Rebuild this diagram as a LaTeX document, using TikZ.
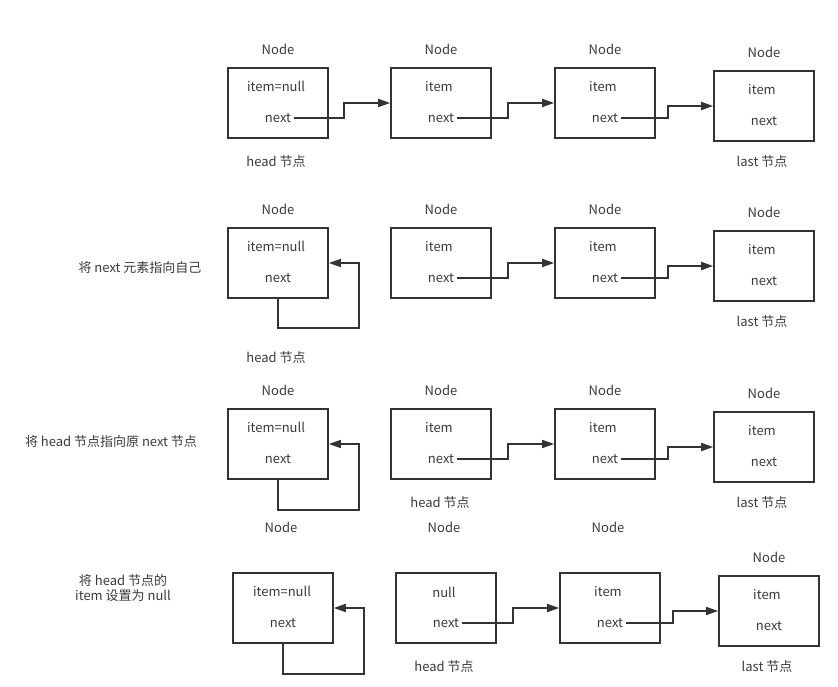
\documentclass[tikz,border=0pt]{standalone}
\usepackage{fontspec}
\setmainfont{Noto Sans CJK SC}
\usetikzlibrary{arrows.meta}
\definecolor{ln}{HTML}{333333}
\definecolor{tx}{HTML}{3A3A3A}
\begin{document}
\begin{tikzpicture}[x=1pt,y=-1pt,
  box/.style={draw=ln,line width=1.7pt,minimum width=100pt,minimum height=70pt,inner sep=0pt},
  lbl/.style={text=tx,font=\fontsize{13}{15.5}\selectfont,inner sep=3pt,yshift=-1pt},
  arr/.style={draw=ln,line width=1.7pt,-{Triangle[length=12pt,width=8pt]}}]
\useasboundingbox (0,0) rectangle (838,687);
% ---------- Row 1 ----------
\node[box] (a1) at (278,103) {};
\node[box] (b1) at (441,103) {};
\node[box] (c1) at (605,103) {};
\node[box] (d1) at (764,106) {};
\node[lbl] (a1t) at (278,48) {Node};
\node[lbl] (b1t) at (441,48) {Node};
\node[lbl] (c1t) at (605,48) {Node};
\node[lbl] (d1t) at (764,51) {Node};
\node[lbl] (a1i) at (276,85) {item=null};
\node[lbl] (a1n) at (278,117) {next};
\node[lbl] (b1i) at (439,86) {item};
\node[lbl] (b1n) at (441,117) {next};
\node[lbl] (c1i) at (603,86) {item};
\node[lbl] (c1n) at (605,117) {next};
\node[lbl] (d1i) at (762,89) {item};
\node[lbl] (d1n) at (764,120) {next};
\node[lbl] (h1) at (276,161) {head 节点};
\node[lbl] (l1) at (762,161) {last 节点};
\draw[arr] (a1n.east) -| ([xshift=-46]b1.west) -- (b1.west);
\draw[arr] (b1n.east) -| ([xshift=-46]c1.west) -- (c1.west);
\draw[arr] (c1n.east) -| ([xshift=-45]d1.west) -- (d1.west);
% ---------- Row 2 ----------
\node[box] (a2) at (278,263) {};
\node[box] (b2) at (441,263) {};
\node[box] (c2) at (605,263) {};
\node[box] (d2) at (764,266) {};
\node[lbl] (a2t) at (278,208) {Node};
\node[lbl] (b2t) at (441,208) {Node};
\node[lbl] (c2t) at (605,208) {Node};
\node[lbl] (d2t) at (764,211) {Node};
\node[lbl] (a2i) at (276,245) {item=null};
\node[lbl] (a2n) at (278,277) {next};
\node[lbl] (b2i) at (439,246) {item};
\node[lbl] (b2n) at (441,277) {next};
\node[lbl] (c2i) at (603,246) {item};
\node[lbl] (c2n) at (605,277) {next};
\node[lbl] (d2i) at (762,249) {item};
\node[lbl] (d2n) at (764,280) {next};
\node[lbl] (h2) at (276,357) {head 节点};
\node[lbl] (l2) at (762,321) {last 节点};
\node[lbl] (s2) at (140,267) {将 next 元素指向自己};
\draw[arr] (a2.south) -- ++(0,29) -| ([xshift=30]a2.east) -- (a2.east);
\draw[arr] (b2n.east) -| ([xshift=-46]c2.west) -- (c2.west);
\draw[arr] (c2n.east) -| ([xshift=-45]d2.west) -- (d2.west);
% ---------- Row 3 ----------
\node[box] (a3) at (278,444) {};
\node[box] (b3) at (441,444) {};
\node[box] (c3) at (605,444) {};
\node[box] (d3) at (764,447) {};
\node[lbl] (a3t) at (278,389) {Node};
\node[lbl] (b3t) at (441,389) {Node};
\node[lbl] (c3t) at (605,389) {Node};
\node[lbl] (d3t) at (764,392) {Node};
\node[lbl] (a3i) at (276,426) {item=null};
\node[lbl] (a3n) at (278,458) {next};
\node[lbl] (b3i) at (439,427) {item};
\node[lbl] (b3n) at (441,458) {next};
\node[lbl] (c3i) at (603,427) {item};
\node[lbl] (c3n) at (605,458) {next};
\node[lbl] (d3i) at (762,430) {item};
\node[lbl] (d3n) at (764,461) {next};
\node[lbl] (h3) at (440,502) {head 节点};
\node[lbl] (l3) at (762,502) {last 节点};
\node[lbl] (s3) at (111,441) {将 head 节点指向原 next 节点};
\draw[arr] (a3.south) -- ++(0,30) -| ([xshift=30]a3.east) -- (a3.east);
\draw[arr] (b3n.east) -| ([xshift=-46]c3.west) -- (c3.west);
\draw[arr] (c3n.east) -| ([xshift=-45]d3.west) -- (d3.west);
% ---------- Row 4 ----------
\node[box] (a4) at (283,608) {};
\node[box] (b4) at (446,608) {};
\node[box] (c4) at (610,608) {};
\node[box] (d4) at (769,611) {};
\node[lbl] (a4t) at (281,526) {Node};
\node[lbl] (b4t) at (444,526) {Node};
\node[lbl] (c4t) at (608,526) {Node};
\node[lbl] (d4t) at (769,556) {Node};
\node[lbl] (a4i) at (282,590) {item=null};
\node[lbl] (a4n) at (283,622) {next};
\node[lbl] (b4i) at (444,591) {null};
\node[lbl] (b4n) at (446,622) {next};
\node[lbl] (c4i) at (608,591) {item};
\node[lbl] (c4n) at (610,622) {next};
\node[lbl] (d4i) at (767,594) {item};
\node[lbl] (d4n) at (769,625) {next};
\node[lbl] (h4) at (444,666) {head 节点};
\node[lbl] (l4) at (767,666) {last 节点};
\node[lbl,align=center] (s4) at (123,587) {将 head 节点的\\item 设置为 null};
\draw[arr] (a4.south) -- ++(0,30) -| ([xshift=30]a4.east) -- (a4.east);
\draw[arr] (b4n.east) -| ([xshift=-46]c4.west) -- (c4.west);
\draw[arr] (c4n.east) -| ([xshift=-45]d4.west) -- (d4.west);
\end{tikzpicture}
\end{document}
